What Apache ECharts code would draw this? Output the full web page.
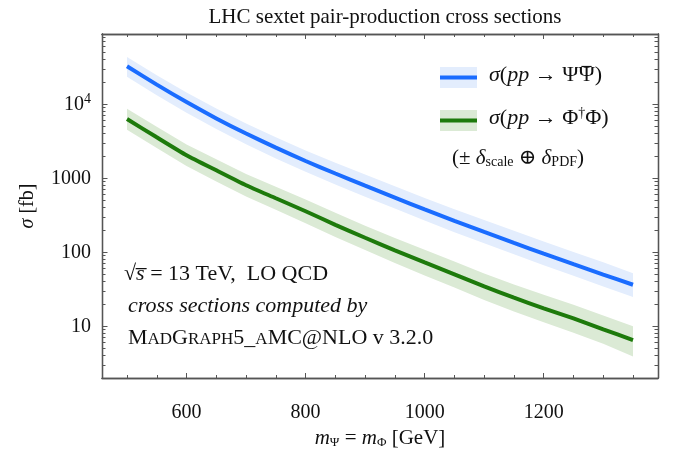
<!DOCTYPE html>
<html>
<head>
<meta charset="utf-8">
<script src="https://cdn.jsdelivr.net/npm/echarts@6/dist/echarts.min.js"></script>
<style>
  html, body { margin: 0; padding: 0; background: #fff; }
  #main { width: 686px; height: 455px; }
</style>
</head>
<body>
<div id="main"></div>
<script>
// masses in GeV
var masses = [500, 550, 600, 650, 700, 750, 800, 850, 900, 950, 1000, 1050, 1100, 1150, 1200, 1250, 1300, 1350]

// sigma(pp -> Psi Psibar) in fb
var psiCentral = [32700, 18400, 10700, 6440, 4020, 2590, 1710, 1160, 793, 548, 379, 265, 188, 134, 95.7, 69, 50, 36.4]
var psiUpper   = [43500, 24700, 14400, 8760, 5510, 3570, 2380, 1620, 1120, 778, 542, 382, 273, 196, 140, 101, 73.5, 52]
var psiLower   = [23500, 13200, 7680, 4620, 2880, 1850, 1220, 826, 564, 389, 268, 187, 132, 94, 67, 48, 34.5, 24.8]

// sigma(pp -> Phi^dagger Phi) in fb
var phiCentral = [6310, 3580, 2050, 1280, 805, 537, 358, 235, 157, 106, 73, 50.4, 34.5, 24.3, 17.5, 12.8, 9.1, 6.5]
var phiUpper   = [8710, 4980, 2870, 1800, 1140, 768, 516, 341, 229, 156, 108, 75, 51.8, 36.7, 26.6, 19.6, 14.0, 10.0]
var phiLower   = [4540, 2560, 1460, 905, 565, 374, 247, 161, 107, 71.5, 48.7, 33.3, 22.6, 15.8, 11.3, 8.2, 5.8, 3.9]

// axis ticks
var xMajorTicks = [600, 800, 1000, 1200]
var xMinorTicks = [500, 550, 600, 650, 700, 750, 800, 850, 900, 950, 1000, 1050, 1100, 1150, 1200, 1250, 1300, 1350]
var yMajorTicks = [10, 100, 1000, 10000]
var yMinorTicks = [2, 3, 4, 5, 6, 7, 8, 9, 20, 30, 40, 50, 60, 70, 80, 90,
  200, 300, 400, 500, 600, 700, 800, 900, 2000, 3000, 4000, 5000, 6000, 7000, 8000, 9000,
  20000, 30000, 40000, 50000, 60000, 70000, 80000]

var X_MIN = 458, X_MAX = 1392
var Y_MIN = 2, Y_MAX = 89000

var SERIF = '"Liberation Serif", "DejaVu Serif", serif'
var FRAME = '#555'
var BLUE = '#1a6cff', BLUE_BAND = '#e3edfd'
var GREEN = '#1d7a0b', GREEN_BAND = '#dbead5'

function pairs(ys) {
  return masses.map(function (m, i) { return [m, ys[i]] })
}

// band between upper and lower arrays, drawn once as a polygon through the axes
function bandSeries(upper, lower, color) {
  return {
    type: 'custom', silent: true, z: 1,
    data: pairs(upper),
    encode: { x: 0, y: 1 },
    renderItem: function (params, api) {
      if (params.dataIndex !== 0) return
      var pts = []
      for (var i = 0; i < masses.length; i++) pts.push(api.coord([masses[i], upper[i]]))
      for (var j = masses.length - 1; j >= 0; j--) pts.push(api.coord([masses[j], lower[j]]))
      return { type: 'polygon', shape: { points: pts }, style: { fill: color } }
    }
  }
}

function xAxisCfg(pos, ticks, len, withLabels) {
  return {
    type: 'value', position: pos, min: X_MIN, max: X_MAX,
    name: withLabels ? '{i|m}{s|Ψ}{n| = }{i|m}{s|Φ}{n| [GeV]}' : '',
    nameLocation: 'middle', nameGap: 50,
    nameTextStyle: {
      rich: {
        i: { fontFamily: SERIF, fontStyle: 'italic', fontSize: 21, color: '#111' },
        n: { fontFamily: SERIF, fontSize: 21, color: '#111' },
        s: { fontFamily: SERIF, fontSize: 13, color: '#111', padding: [8, 0, 0, 0] }
      }
    },
    axisLine: { show: true, onZero: false, lineStyle: { color: FRAME, width: 1.3 } },
    axisTick: { show: true, inside: true, length: len, customValues: ticks, lineStyle: { color: FRAME, width: 1 } },
    axisLabel: withLabels
      ? { show: true, customValues: xMajorTicks, fontFamily: SERIF, fontSize: 20, color: '#111', margin: 25,
          formatter: function (v) { return String(v) } }
      : { show: false },
    splitLine: { show: false }
  }
}

function yAxisCfg(pos, ticks, len, withLabels) {
  return {
    type: 'log', logBase: 10, position: pos, min: Y_MIN, max: Y_MAX,
    name: withLabels ? '{i|σ}{n| [fb]}' : '',
    nameLocation: 'middle', nameGap: 64, nameRotate: 90,
    nameTextStyle: {
      rich: {
        i: { fontFamily: SERIF, fontStyle: 'italic', fontSize: 20, color: '#111' },
        n: { fontFamily: SERIF, fontSize: 20, color: '#111' }
      }
    },
    axisLine: { show: true, onZero: false, lineStyle: { color: FRAME, width: 1.3 } },
    axisTick: { show: true, inside: true, length: len, customValues: ticks, lineStyle: { color: FRAME, width: 1 } },
    axisLabel: withLabels
      ? {
          show: true, customValues: yMajorTicks, margin: 11,
          fontFamily: SERIF, fontSize: 20, color: '#111',
          formatter: function (v) {
            if (v >= 10000) return '{n|10}{sup|' + Math.round(Math.log10(v)) + '}'
            return '{n|' + v + '}'
          },
          rich: {
            n: { fontFamily: SERIF, fontSize: 20, color: '#111' },
            sup: { fontFamily: SERIF, fontSize: 14, color: '#111', padding: [0, 0, 10, 0] }
          }
        }
      : { show: false },
    splitLine: { show: false }
  }
}

// measure where the second Psi sits so the bar can go over it
var mctx = document.createElement('canvas').getContext('2d')
function textW(str, italic) {
  mctx.font = (italic ? 'italic ' : '') + '22px ' + SERIF
  return mctx.measureText(str).width
}
var LEG_X = 489
var barStart = LEG_X + textW('σ', true) + textW('(', false) + textW('pp', true) + textW(' → Ψ', false)
var barW = textW('Ψ', false)

var chart = echarts.init(document.getElementById('main'), null, { renderer: 'canvas' })

var option = {
  backgroundColor: '#fff',
  animation: false,
  title: {
    text: 'LHC sextet pair-production cross sections',
    left: 380, top: 2, textAlign: 'center',
    textStyle: { fontFamily: SERIF, fontSize: 21, fontWeight: 'normal', color: '#111' }
  },
  grid: { left: 102, right: 28, top: 34, bottom: 77 },
  xAxis: [
    xAxisCfg('bottom', xMinorTicks, 3, true),
    xAxisCfg('bottom', xMajorTicks, 5, false),
    xAxisCfg('top', xMinorTicks, 3, false),
    xAxisCfg('top', xMajorTicks, 5, false)
  ],
  yAxis: [
    yAxisCfg('left', yMinorTicks, 3.5, true),
    yAxisCfg('left', yMajorTicks, 5.5, false),
    yAxisCfg('right', yMinorTicks, 3.5, false),
    yAxisCfg('right', yMajorTicks, 5.5, false)
  ],
  series: [
    bandSeries(psiUpper, psiLower, BLUE_BAND),
    bandSeries(phiUpper, phiLower, GREEN_BAND),
    { type: 'line', name: 'psi', data: pairs(psiCentral), symbol: 'none', smooth: 0.2,
      lineStyle: { color: BLUE, width: 4 }, z: 5 },
    { type: 'line', name: 'phi', data: pairs(phiCentral), symbol: 'none', smooth: 0.2,
      lineStyle: { color: GREEN, width: 4 }, z: 5 }
  ],
  graphic: [
    // legend samples
    { type: 'rect', z: 10, shape: { x: 440, y: 67, width: 37, height: 21 }, style: { fill: BLUE_BAND } },
    { type: 'line', z: 11, shape: { x1: 440, y1: 77.5, x2: 477, y2: 77.5 }, style: { stroke: BLUE, lineWidth: 4 } },
    { type: 'rect', z: 10, shape: { x: 440, y: 110, width: 37, height: 21 }, style: { fill: GREEN_BAND } },
    { type: 'line', z: 11, shape: { x1: 440, y1: 120.5, x2: 477, y2: 120.5 }, style: { stroke: GREEN, lineWidth: 4 } },
    {
      type: 'text', z: 10, left: LEG_X, top: 64,
      style: {
        text: '{i|σ}{n|(}{i|pp}{n| → ΨΨ)}',
        rich: {
          i: { fontFamily: SERIF, fontStyle: 'italic', fontSize: 22, fill: '#111' },
          n: { fontFamily: SERIF, fontSize: 22, fill: '#111' }
        }
      }
    },
    // bar over the second Psi
    { type: 'line', z: 11, shape: { x1: barStart + 3, y1: 66.5, x2: barStart + barW - 3, y2: 66.5 },
      style: { stroke: '#111', lineWidth: 1.2 } },
    {
      type: 'text', z: 10, left: LEG_X, top: 106,
      style: {
        text: '{i|σ}{n|(}{i|pp}{n| → Φ}{sup|†}{n|Φ)}',
        rich: {
          i: { fontFamily: SERIF, fontStyle: 'italic', fontSize: 22, fill: '#111' },
          n: { fontFamily: SERIF, fontSize: 22, fill: '#111' },
          sup: { fontFamily: SERIF, fontSize: 14, fill: '#111', padding: [0, 0, 10, 0] }
        }
      }
    },
    {
      type: 'text', z: 10, left: 452, top: 148,
      style: {
        text: '{n|(± }{i|δ}{s|scale}{n| ⊕ }{i|δ}{s|PDF}{n|)}',
        rich: {
          i: { fontFamily: SERIF, fontStyle: 'italic', fontSize: 21, fill: '#111' },
          n: { fontFamily: SERIF, fontSize: 21, fill: '#111' },
          s: { fontFamily: SERIF, fontSize: 14, fill: '#111', padding: [8, 0, 0, 0] }
        }
      }
    },
    // annotation block
    {
      type: 'text', z: 10, left: 124, top: 263,
      style: {
        text: '{n|√}{o|s̅}{n| = 13 TeV,  LO QCD}',
        rich: {
          n: { fontFamily: SERIF, fontSize: 22, fill: '#111' },
          o: { fontFamily: SERIF, fontStyle: 'italic', fontSize: 22, fill: '#111' }
        }
      }
    },
    {
      type: 'text', z: 10, left: 128, top: 295,
      style: { text: 'cross sections computed by', fontFamily: SERIF, fontStyle: 'italic', fontSize: 22, fill: '#111' }
    },
    {
      type: 'text', z: 10, left: 128, top: 327,
      style: {
        text: '{b|M}{c|AD}{b|G}{c|RAPH}{b|5_}{c|A}{b|MC@NLO v 3.2.0}',
        rich: {
          b: { fontFamily: SERIF, fontSize: 22, fill: '#111' },
          c: { fontFamily: SERIF, fontSize: 17, fill: '#111', padding: [3, 0, 0, 0] }
        }
      }
    }
  ]
}

chart.setOption(option)
</script>
</body>
</html>
